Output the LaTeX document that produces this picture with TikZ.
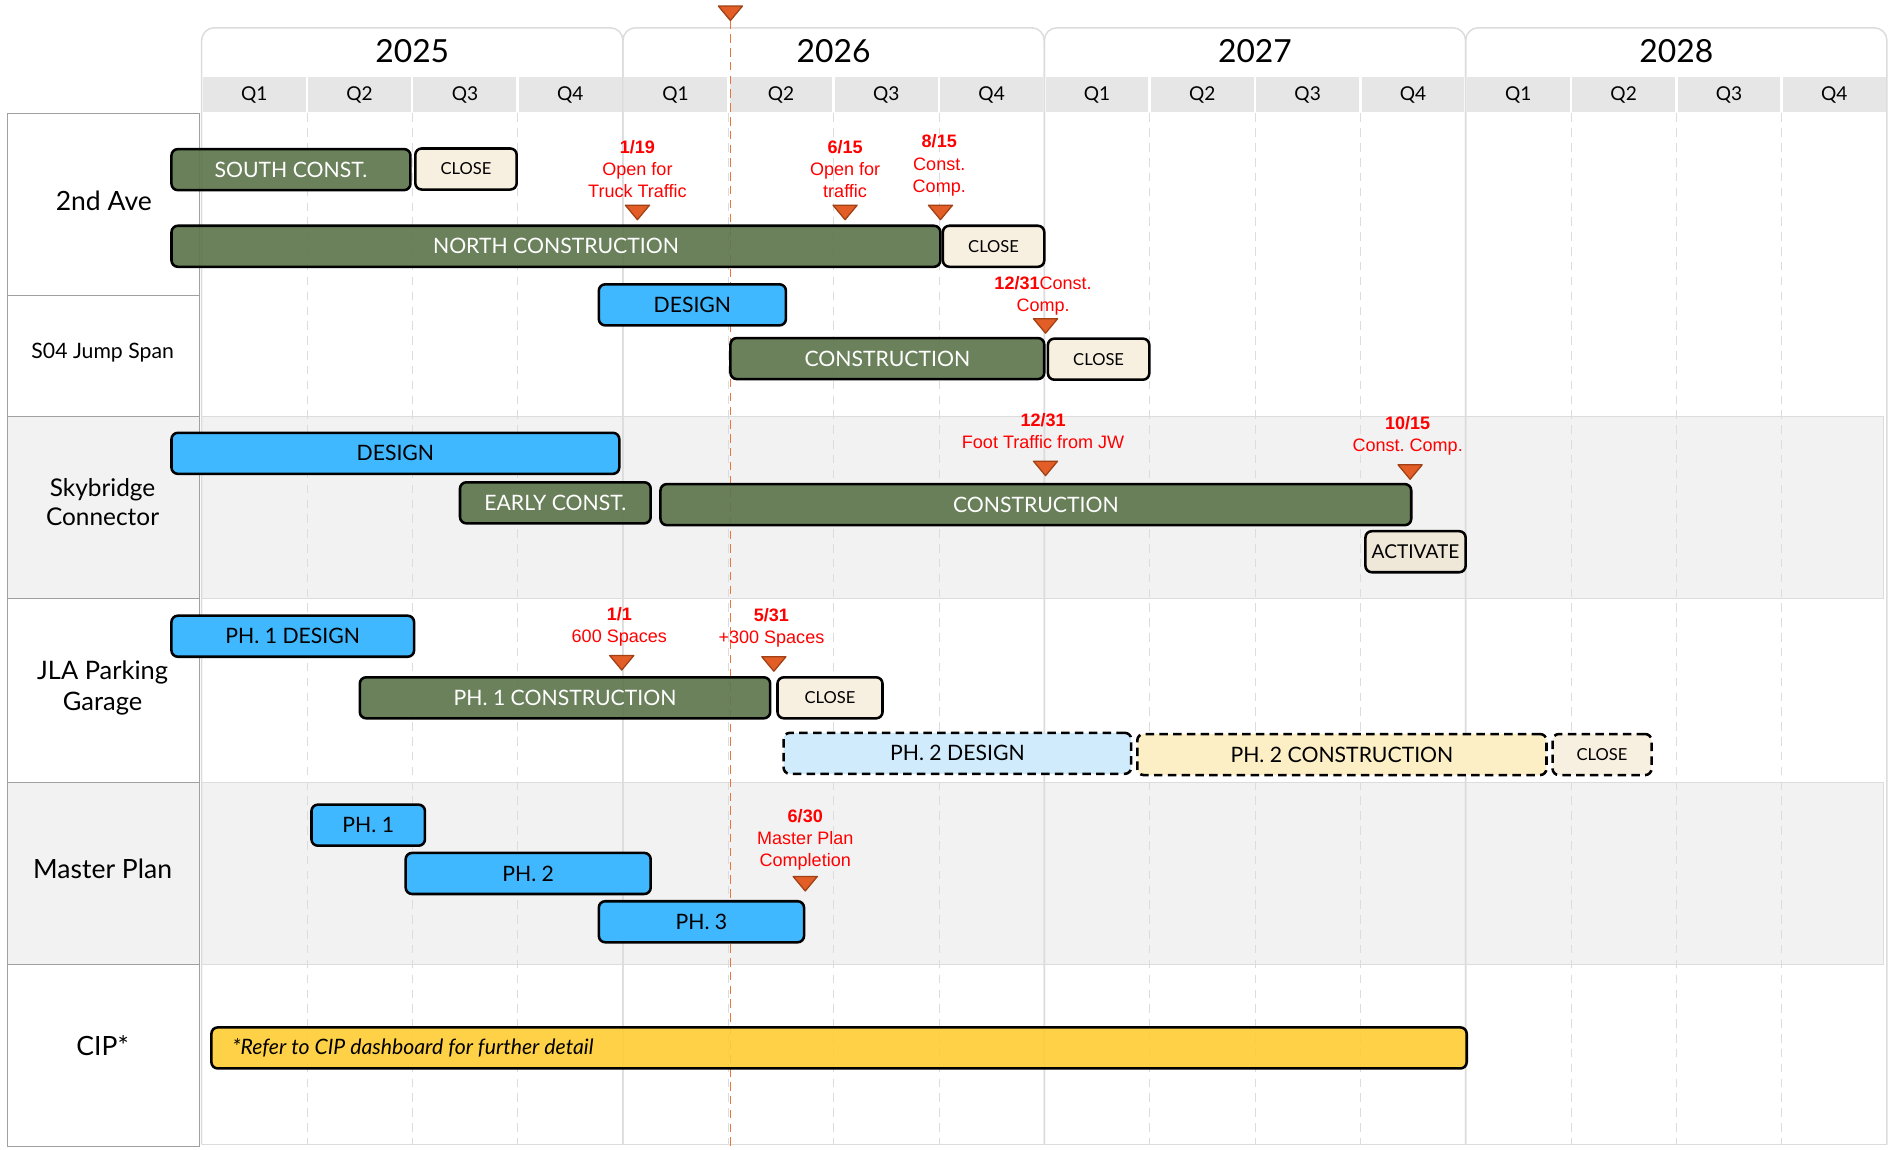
\documentclass[tikz,border=0pt]{standalone}
\usepackage{fontspec}
\setmainfont{Lato}
\newfontfamily\milefont{Liberation Sans}

\definecolor{barGreen}{RGB}{94,118,77}
\definecolor{barBlue}{RGB}{64,184,255}
\definecolor{barCream}{RGB}{247,239,224}
\definecolor{barSand}{RGB}{239,231,216}
\definecolor{barIce}{RGB}{208,235,252}
\definecolor{barButter}{RGB}{253,239,197}
\definecolor{barGold}{RGB}{255,204,51}
\definecolor{rowGray}{RGB}{242,242,242}
\definecolor{lineGray}{RGB}{220,220,220}
\definecolor{headGray}{RGB}{230,230,230}
\definecolor{labelLine}{RGB}{160,160,160}
\definecolor{mileRed}{RGB}{255,0,0}
\definecolor{mileFill}{RGB}{226,94,38}
\definecolor{mileEdge}{RGB}{160,64,20}
\definecolor{todayLine}{RGB}{232,118,60}

\begin{document}
\frenchspacing
\begin{tikzpicture}[x=0.02cm, y=-0.02cm,
	bar/.style={draw=black, line width=1.2pt, rounded corners=3pt, minimum height=0.68cm, inner sep=0pt, font=\fontsize{10}{12}\selectfont},
	green bar/.style={bar, fill=barGreen, fill opacity=0.92, text opacity=1, text=white},
	blue bar/.style={bar, fill=barBlue},
	close bar/.style={bar, fill=barCream, font=\fontsize{7.8}{9}\selectfont},
	plan bar/.style={bar, dash pattern=on 4pt off 2.5pt},
	gold bar/.style={bar, fill=barGold, fill opacity=0.9},
	rowlabel/.style={align=center, inner sep=0pt, font=\fontsize{12.5}{14.8}\selectfont},
	mtext/.style={text=mileRed, align=center, inner sep=0pt, font=\milefont\fontsize{8.5}{10.4}\selectfont},
	milestone/.pic={\path[fill=mileFill, draw=mileEdge, line width=0.6pt, line join=round] (-10,0) -- (10,0) -- (0,12) -- cycle;}
	]
	\useasboundingbox (0,0) rectangle (1568,952);

	\foreach \top/\bot in {345/496, 648/799}
		\draw[lineGray, fill=rowGray] (167,\top) rectangle (1560,\bot);
	\draw[lineGray] (167,948) -- (1563,948);

	\foreach \k in {1,2,3,5,6,7,9,10,11,13,14,15}
		\draw[lineGray, dashed, dash pattern=on 4pt off 3pt] ({167+87.25*\k},94) -- ({167+87.25*\k},948);

	\foreach \k in {0,...,3}
		\draw[lineGray, line width=0.7pt, rounded corners=6pt] ({167+349*\k},948) |- ({167+349*(\k+0.5)},23) -| ({167+349*(\k+1)},948);

	\foreach \k in {0,...,15}
		\fill[headGray] ({167+87.25*\k+1},64) rectangle ({167+87.25*(\k+1)-1},93);

	\foreach \k/\yr in {0/2025, 1/2026, 2/2027, 3/2028}
		\node[font=\fontsize{15}{18}\selectfont] (y\yr) at ({167+349*(\k+0.5)},42) {\yr};

	\foreach \k in {0,...,15} {
		\pgfmathtruncatemacro\q{mod(\k,4)+1}
		\node[font=\fontsize{9}{11}\selectfont] (q\k) at ({167+87.25*(\k+0.5)},79) {Q\q};
	}

	\foreach \top/\bot/\col in {94/245/white, 245/345/white, 345/496/rowGray, 496/648/white, 648/799/rowGray, 799/950/white}
		\draw[labelLine, fill=\col] (6,\top) rectangle (165,\bot);

	\node[rowlabel] (Ave) at (86,166) {2nd Ave};
	\node[rowlabel, font=\fontsize{10}{12}\selectfont] (Jump) at (85,292) {S04 Jump Span};
	\node[rowlabel, font=\fontsize{11.5}{13.7}\selectfont] (Sky) at (85,416) {Skybridge\\Connector};
	\node[rowlabel, font=\fontsize{12}{14.8}\selectfont] (JLA) at (85,570) {JLA Parking\\Garage};
	\node[rowlabel] (Plan) at (85,720) {Master Plan};
	\node[rowlabel] (CIPl) at (85,866) {CIP*};

	\draw[todayLine, line width=0.8pt, dash pattern=on 4pt off 2.5pt] (605,17) -- (605,950);
	\pic at (605,5) {milestone};

	\node[green bar, minimum width=3.96cm] (AveSouth) at (241,140.5) {SOUTH CONST.};
	\node[close bar, minimum width=1.68cm] (AveClose1) at (386,140) {CLOSE};
	\node[green bar, minimum width=12.74cm] (AveNorth) at (460.5,204) {NORTH CONSTRUCTION};
	\node[close bar, minimum width=1.68cm] (AveClose2) at (823,204) {CLOSE};

	\node[blue bar, minimum width=3.1cm] (JumpDesign) at (573.5,252.5) {DESIGN};
	\node[green bar, minimum width=5.2cm] (JumpConst) at (735,297) {CONSTRUCTION};
	\node[close bar, minimum width=1.68cm] (JumpClose) at (910,297.5) {CLOSE};

	\node[blue bar, minimum width=7.42cm] (SkyDesign) at (327.5,375.5) {DESIGN};
	\node[green bar, minimum width=3.16cm] (SkyEarly) at (460,416.5) {EARLY CONST.};
	\node[green bar, minimum width=12.44cm] (SkyConst) at (858,418) {CONSTRUCTION};
	\node[bar, fill=barSand, minimum width=1.66cm, font=\fontsize{9}{11}\selectfont] (SkyActivate) at (1172.5,457) {ACTIVATE};

	\node[blue bar, minimum width=4.02cm] (JLADesign) at (242.5,527) {PH. 1 DESIGN};
	\node[green bar, minimum width=6.8cm] (JLAConst) at (468,578) {PH. 1 CONSTRUCTION};
	\node[close bar, minimum width=1.74cm] (JLAClose1) at (687.5,578) {CLOSE};
	\node[plan bar, fill=barIce, minimum width=5.76cm] (JLADesign2) at (793,624) {PH. 2 DESIGN};
	\node[plan bar, fill=barButter, minimum width=6.78cm] (JLAConst2) at (1111.5,625) {PH. 2 CONSTRUCTION};
	\node[plan bar, fill=barCream, minimum width=1.64cm, font=\fontsize{7.8}{9}\selectfont] (JLAClose2) at (1327,625) {CLOSE};

	\node[blue bar, minimum width=1.88cm] (PlanOne) at (305,683.5) {PH. 1};
	\node[blue bar, minimum width=4.06cm] (PlanTwo) at (437.5,723.5) {PH. 2};
	\node[blue bar, minimum width=3.4cm] (PlanThree) at (581,763.5) {PH. 3};

	\node[gold bar, minimum width=20.8cm] (CIP) at (695,868) {};
	\node[anchor=west, inner sep=0pt, font=\fontsize{10}{12}\selectfont\itshape] (CIPnote) at ([xshift=0.36cm]CIP.west) {*Refer to CIP dashboard for further detail};

	\node[mtext] (M1) at (528,140) {\textbf{1/19}\\Open for\\Truck Traffic};
	\pic at (528,170) {milestone};
	\node[mtext] (M2) at (700,140) {\textbf{6/15}\\Open for\\traffic};
	\pic at (700,170) {milestone};
	\node[mtext] (M3) at (778,137) {\textbf{8/15}\\Const.\\Comp.};
	\pic at (779,170) {milestone};
	\node[mtext] (M4) at (864,245) {\textbf{12/31}Const.\\Comp.};
	\pic at (866,264) {milestone};
	\node[mtext] (M5) at (864,357) {\textbf{12/31}\\Foot Traffic from JW};
	\pic at (866,382) {milestone};
	\node[mtext] (M6) at (1166,361) {\textbf{10/15}\\Const. Comp.};
	\pic at (1168,385) {milestone};
	\node[mtext] (M7) at (513,519) {\textbf{1/1}\\600 Spaces};
	\pic at (515,543) {milestone};
	\node[mtext] (M8) at (639,520) {\textbf{5/31}\\+300 Spaces};
	\pic at (641,544) {milestone};
	\node[mtext] (M9) at (667,695.5) {\textbf{6/30}\\Master Plan\\Completion};
	\pic at (667,726) {milestone};
\end{tikzpicture}
\end{document}
